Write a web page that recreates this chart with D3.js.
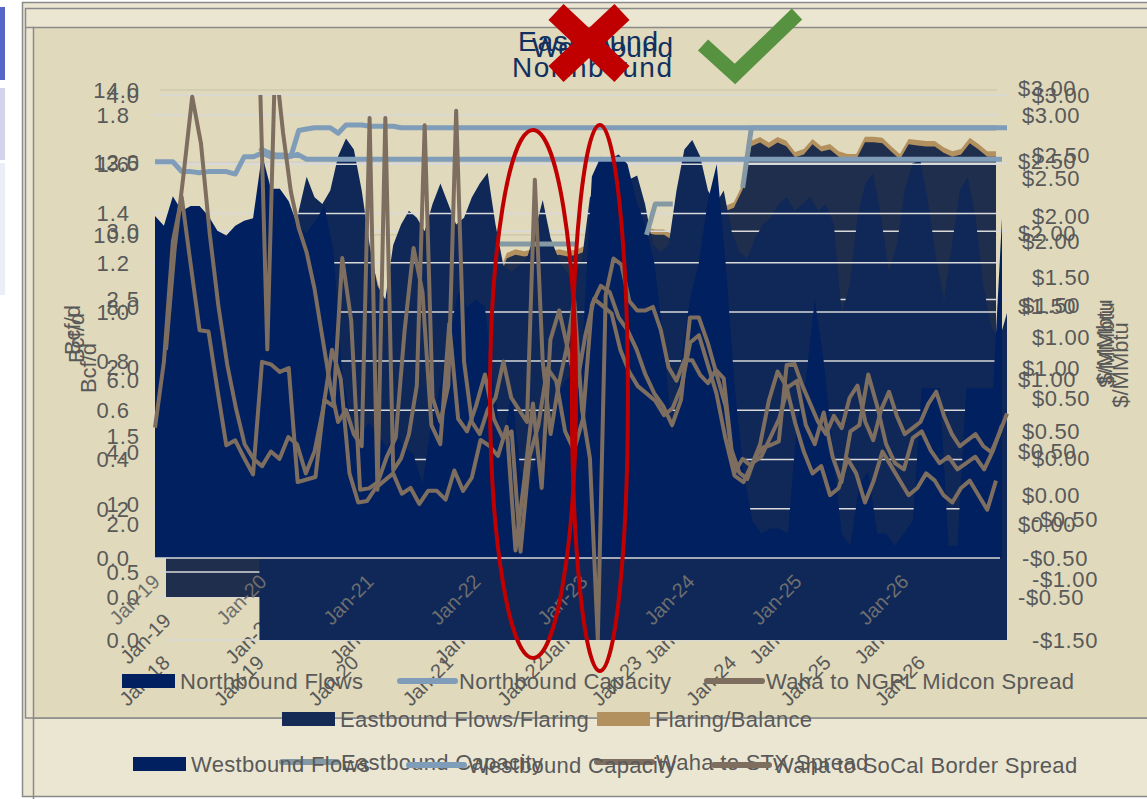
<!DOCTYPE html>
<html><head><meta charset="utf-8">
<script src="https://cdn.jsdelivr.net/npm/d3@7/dist/d3.min.js"></script>
<style>
body{margin:0;background:#fff;}
text{font-family:"Liberation Sans",Arial,sans-serif;}
</style></head>
<body><svg id="chart" width="1147" height="799"></svg>
<script>
// ---------------- DATA ----------------
const yearTicks = ["Jan-18","Jan-19","Jan-20","Jan-21","Jan-22","Jan-23","Jan-24","Jan-25","Jan-26"];
const titles = ["Eastbound","Westbound","Northbound"];

// Northbound (monthly Jan-19 .. Dec-26)
const nbFlows = [
 1.39,1.35,1.47,1.41,1.43,1.43,1.39,1.33,1.31,1.35,1.37,1.38,
 1.64,1.50,1.50,1.45,1.35,1.32,1.37,1.43,1.25,0.75,0.55,0.50,
 0.55,0.50,0.45,0.50,0.45,0.42,0.30,0.55,0.70,0.90,1.08,1.02,
 1.05,1.02,0.70,0.45,0.68,0.35,0.30,0.45,0.50,0.65,0.72,0.75,
 0.90,1.55,1.63,1.62,1.64,1.60,1.45,1.35,1.20,0.90,0.50,0.80,
 1.05,1.20,1.45,1.60,1.20,0.70,0.35,0.15,0.10,0.12,0.12,0.10,
 0.55,0.72,1.05,0.80,0.45,0.10,0.05,0.30,0.35,0.10,0.10,0.05,
 0.10,0.15,0.69,0.69,0.69,0.05,0.05,0.69,0.69,0.69,0.69,1.38];
const nbCapacity = [
 1.61,1.61,1.61,1.57,1.57,1.565,1.57,1.57,1.57,1.56,1.63,1.63,
 1.645,1.63,1.63,1.63,1.64,1.62,1.62,1.62,1.62,1.62,1.62,1.62,
 1.62,1.62,1.62,1.62,1.62,1.62,1.62,1.62,1.62,1.62,1.62,1.62,
 1.62,1.62,1.62,1.62,1.62,1.62,1.62,1.62,1.62,1.62,1.62,1.62,
 1.62,1.62,1.62,1.62,1.62,1.62,1.62,1.62,1.62,1.62,1.62,1.62,
 1.62,1.62,1.62,1.62,1.62,1.62,1.62,1.62,1.62,1.62,1.62,1.62,
 1.62,1.62,1.62,1.62,1.62,1.62,1.62,1.62,1.62,1.62,1.62,1.62,
 1.62,1.62,1.62,1.62,1.62,1.62,1.62,1.62,1.62,1.62,1.62,1.62];
const ngplSpread = [
 0.53,1.05,2.00,2.35,1.82,1.30,1.29,0.83,0.39,0.43,0.29,0.16,
 1.05,1.03,0.97,1.00,0.10,0.12,0.14,0.75,0.70,1.87,1.38,0.04,
 0.05,0.10,0.30,0.45,1.30,1.95,1.60,0.55,0.40,1.35,0.60,0.50,
 0.70,0.95,0.60,0.45,0.50,-0.45,0.30,0.55,1.00,0.90,0.50,0.35,
 0.60,1.50,1.65,1.60,1.40,1.30,1.15,0.95,0.80,0.70,0.55,0.75,
 1.40,1.40,1.20,0.95,0.70,0.15,0.10,0.25,0.30,0.45,0.60,0.85,
 0.90,0.55,0.40,0.65,0.30,0.10,0.50,0.55,0.95,0.70,0.40,0.25,
 0.20,0.45,0.50,0.35,0.25,0.30,0.20,0.25,0.30,0.20,0.35,0.55];

// Eastbound (monthly Jan-19 .. Dec-26)
const ebFlows = [
 8.45,8.55,8.65,8.75,8.85,8.95,9.05,9.15,9.15,9.25,9.25,9.35,
 9.25,9.15,8.85,7.65,7.45,8.05,8.45,8.65,8.85,8.95,9.05,9.05,
 8.75,7.85,8.95,9.05,9.15,9.05,9.15,9.25,9.25,9.35,9.35,9.35,
 9.15,9.05,8.70,9.35,9.45,9.40,9.45,9.35,9.40,9.45,9.40,9.45,
 9.55,9.65,9.75,9.85,9.85,9.95,9.95,10.05,10.00,10.00,9.85,10.15,
 10.15,10.35,10.45,10.55,10.65,10.75,11.25,12.45,12.55,12.40,12.55,12.45,
 12.14,12.22,12.50,12.30,12.36,12.16,12.08,12.08,12.56,12.56,12.53,12.30,
 12.08,12.50,12.47,12.44,12.44,12.27,12.16,12.22,12.53,12.36,12.16,12.16];
const ebFlaring = [
 0.15,0.15,0.15,0.15,0.15,0.15,0.15,0.15,0.15,0.15,0.15,0.15,
 0.15,0.15,0.15,0.15,0.15,0.15,0.15,0.15,0.15,0.15,0.15,0.15,
 0.15,0.15,0.15,0.15,0.15,0.15,0.15,0.15,0.15,0.15,0.15,0.15,
 0.15,0.15,0.15,0.15,0.15,0.15,0.15,0.15,0.15,0.15,0.15,0.15,
 0.15,0.15,0.15,0.15,0.15,0.15,0.15,0.15,0.15,0.15,0.15,0.15,
 0.15,0.15,0.15,0.15,0.15,0.15,0.15,0.15,0.15,0.15,0.15,0.15,
 0.15,0.15,0.15,0.15,0.15,0.15,0.15,0.15,0.15,0.15,0.15,0.15,
 0.15,0.15,0.15,0.15,0.15,0.15,0.15,0.15,0.15,0.15,0.15,0.15];
// visible portions only (rest is hidden behind the other flows)
const ebCapacity = [
 null,null,null,null,null,null,null,null,null,null,null,null,
 null,null,null,null,null,null,null,null,null,null,null,null,
 null,null,null,null,null,null,null,null,null,null,null,null,
 null,null,9.75,9.75,9.75,9.75,9.75,9.75,9.75,9.75,9.75,9.75,
 null,null,null,null,null,null,null,10.0,10.85,10.85,10.85,null,
 null,null,null,null,null,null,11.3,12.95,12.95,12.95,12.95,12.95,
 12.95,12.95,12.95,12.95,12.95,12.95,12.95,12.95,12.95,12.95,12.95,12.95,
 12.95,12.95,12.95,12.95,12.95,12.95,12.95,12.95,12.95,12.95,12.95,12.95];
const stxSpread = [
 1.20,1.90,2.40,2.94,2.62,2.00,1.50,1.10,0.80,0.55,0.45,0.40,
 0.50,0.45,0.60,0.55,0.35,0.50,0.80,1.20,1.00,0.35,0.15,0.16,
 0.25,0.30,0.35,0.21,0.25,0.14,0.23,0.23,0.17,0.37,0.23,0.32,
 0.58,0.54,0.47,0.67,-0.18,0.30,0.83,0.25,1.27,1.47,1.20,0.95,
 1.30,1.55,1.50,1.45,1.20,1.05,0.95,0.90,0.85,0.75,0.80,0.95,
 1.25,1.30,1.10,0.90,0.60,0.35,0.45,0.40,0.55,0.85,1.05,0.95,
 0.70,0.50,0.35,0.40,0.20,0.25,0.45,0.35,0.15,0.30,0.50,0.40,
 0.30,0.20,0.25,0.35,0.30,0.20,0.15,0.25,0.30,0.20,0.10,0.30];

// Westbound (monthly Jan-18 .. Dec-26)
const wbFlows = [
 null,null,null,null,null,null,null,null,null,null,null,null,
 2.95,3.00,3.10,3.00,2.85,3.15,3.40,3.25,3.20,3.30,3.55,3.68,
 3.60,3.30,2.90,2.60,2.50,2.90,3.05,3.15,3.10,3.00,3.20,3.35,
 3.20,3.05,3.10,3.25,3.35,3.43,3.05,2.75,2.70,2.75,2.80,3.00,
 3.23,2.95,2.80,2.70,2.65,2.80,3.25,3.30,3.20,3.30,3.35,3.38,
 3.41,3.20,2.90,2.85,2.90,3.30,3.60,3.67,3.55,3.30,3.20,3.30,
 3.00,2.85,2.80,2.95,3.05,3.10,3.20,3.25,3.15,3.20,3.25,3.15,
 3.20,3.05,2.40,2.60,3.10,3.35,3.43,3.10,2.70,2.90,3.30,3.50,
 3.52,3.20,2.80,2.50,2.90,3.30,3.40,3.10,2.60,2.30,2.20,2.40];
const wbCapacity = [
 null,null,null,null,null,null,null,null,null,null,null,null,
 3.61,3.58,3.56,3.56,3.55,3.74,3.75,3.76,3.76,3.76,3.72,3.78,
 3.78,3.78,3.77,3.77,3.77,3.77,3.76,3.76,3.76,3.76,3.76,3.76,
 3.76,3.76,3.76,3.76,3.76,3.76,3.76,3.76,3.76,3.76,3.76,3.76,
 3.76,3.76,3.76,3.76,3.76,3.76,3.76,3.76,3.76,3.76,3.76,3.76,
 3.76,3.76,3.76,3.76,3.76,3.76,3.76,3.76,3.76,3.76,3.76,3.76,
 3.76,3.76,3.76,3.76,3.76,3.76,3.76,3.76,3.76,3.76,3.76,3.76,
 3.76,3.76,3.76,3.76,3.76,3.76,3.76,3.76,3.76,3.76,3.76,3.76,
 3.76,3.76,3.76,3.76,3.76,3.76,3.76,3.76,3.76,3.76,3.76,3.76];
const socalSpread = [
 null,null,null,null,null,null,null,null,null,null,null,null,
 3.30,0.90,3.30,2.69,2.20,1.90,1.70,1.40,1.00,0.60,0.30,0.40,
 0.20,0.10,2.81,-0.26,2.81,-0.10,0.00,0.20,0.60,2.75,0.50,0.30,
 0.60,2.87,0.80,0.30,0.20,0.40,0.50,0.80,0.50,0.40,0.30,2.30,
 0.80,0.20,0.60,0.90,1.30,0.40,0.00,-1.50,1.35,1.65,1.60,1.30,
 1.22,1.22,1.25,1.06,0.75,0.64,0.81,0.81,0.69,0.62,0.73,0.66,
 0.07,-0.12,-0.17,0.01,0.09,0.11,0.14,0.77,0.78,0.60,0.45,0.30,
 0.20,0.35,0.25,0.50,0.60,0.30,0.15,0.40,0.55,0.35,0.20,0.25,
 0.30,0.45,0.55,0.35,0.20,0.10,0.15,0.20,0.10,0.05,0.20,0.37];

const leftTicksNB = [0,0.2,0.4,0.6,0.8,1.0,1.2,1.4,1.6,1.8];
const leftTicksEB = [0,2,4,6,8,10,12,14];
const leftTicksWB = [0,0.5,1,1.5,2,2.5,3,3.5,4];
const rightTicksNB = [-0.5,0,0.5,1,1.5,2,2.5,3];
const rightTicksEB = [-0.5,0,0.5,1,1.5,2,2.5,3];
const rightTicksWB = [-1.5,-1,-0.5,0,0.5,1,1.5,2,2.5,3];

// ---------------- DRAW ----------------
const svg = d3.select("#chart");
const C = {
  tan:"#e0d9bb", light:"#ebe6d2", frame:"#8a8a8a",
  bright:"#002060", medium:"#0f2858", gray:"#1f2e4d",
  flaring:"#b3915f", capB:"#7f9cb8", capE:"#8499a4", spread:"#7d6e60",
  grid:"#d9d9d9", text:"#595959"
};

svg.append("rect").attr("x",0).attr("y",0).attr("width",1147).attr("height",799).attr("fill","#fff");
svg.append("rect").attr("x",0).attr("y",7).attr("width",5).attr("height",73).attr("fill","#5566c8");
svg.append("rect").attr("x",0).attr("y",88).attr("width",5).attr("height",72).attr("fill","#d2d4ec");
svg.append("rect").attr("x",0).attr("y",163).attr("width",5).attr("height",132).attr("fill","#eceef7");
svg.append("rect").attr("x",22.5).attr("y",2.5).attr("width",1140).attr("height",794).attr("fill",C.light).attr("stroke",C.frame).attr("stroke-width",1.5);
svg.append("rect").attr("x",25.5).attr("y",8.5).attr("width",1140).attr("height",709.5).attr("fill","none").attr("stroke",C.frame).attr("stroke-width",1.5);
svg.append("rect").attr("x",33.5).attr("y",27.5).attr("width",1140).attr("height",690.5).attr("fill",C.tan).attr("stroke",C.frame).attr("stroke-width",1.5);
svg.append("line").attr("x1",25).attr("x2",34).attr("y1",27.5).attr("y2",27.5).attr("stroke",C.frame).attr("stroke-width",1.5);
svg.append("line").attr("x1",33.5).attr("x2",33.5).attr("y1",718).attr("y2",799).attr("stroke",C.frame).attr("stroke-width",1.5);

const xNB = d3.scaleLinear().domain([0,95]).range([155,1002]);
const yNB = d3.scaleLinear().domain([0,1.8]).range([558,115]);
const yNBr = d3.scaleLinear().domain([-0.5,3]).range([558,115]);
const xEB = d3.scaleLinear().domain([0,95]).range([166,996]);
const yEB = d3.scaleLinear().domain([0,14]).range([597,90]);
const yEBr = d3.scaleLinear().domain([-0.5,3]).range([597,88]);
const xWB = d3.scaleLinear().domain([0,107]).range([165,1007]);
const yWB = d3.scaleLinear().domain([0,4]).range([640,95]);
const yWBr = d3.scaleLinear().domain([-1.5,3]).range([640,95]);

const fmt1 = d3.format(".1f");
const fmtD = v => (v<0?"-$":"$") + d3.format(".2f")(Math.abs(v));

function grid(g, ticks, y, x1, x2, color){
  g.selectAll(null).data(ticks).enter().append("line")
   .attr("x1",x1).attr("x2",x2).attr("y1",d=>y(d)).attr("y2",d=>y(d))
   .attr("stroke",color).attr("stroke-width",1.5);
}
function leftLabels(g, ticks, y, xEnd, fmt){
  g.selectAll(null).data(ticks).enter().append("text")
   .attr("x",xEnd).attr("y",d=>y(d)).attr("dy","0.36em").attr("text-anchor","end")
   .attr("font-size",22).attr("letter-spacing",1).attr("fill",C.text).text(fmt);
}
function rightLabels(g, ticks, y, xStart, fmt){
  g.selectAll(null).data(ticks).enter().append("text")
   .attr("x",xStart).attr("y",d=>y(d)).attr("dy","0.36em").attr("text-anchor","start")
   .attr("font-size",22).attr("letter-spacing",0.6).attr("fill",C.text).text(fmt);
}
function xLabels(g, labels, xpos, yTop, color){
  g.selectAll(null).data(labels).enter().append("text")
   .attr("transform",(d,i)=>`translate(${xpos(i)+6},${yTop}) rotate(-45)`)
   .attr("text-anchor","end").attr("font-size",20).attr("fill",color).text(d=>d);
}
function areaPath(g, vals, x, y, y0, color){
  const a = d3.area().defined(d=>d.v!=null).x(d=>x(d.i)).y0(y0).y1(d=>y(d.top));
  g.append("path").datum(vals).attr("d",a).attr("fill",color);
}
function linePath(g, vals, x, y, color, w, clipId){
  const l = d3.line().defined(d=>d!=null).x((d,i)=>x(i)).y(d=>y(d));
  g.append("path").datum(vals).attr("d",l).attr("fill","none").attr("stroke",color)
   .attr("stroke-width",w).attr("stroke-linejoin","round").attr("clip-path",clipId?`url(#${clipId})`:null);
}
function yTitle(g, txt, cx, cy, rot){
  g.append("text").attr("transform",`translate(${cx},${cy}) rotate(${rot})`)
   .attr("text-anchor","middle").attr("dy","0.35em").attr("font-size",22).attr("fill",C.text).text(txt);
}
function legendRect(g, x, y, color, label){
  g.append("rect").attr("x",x).attr("y",y-7).attr("width",53).attr("height",14).attr("fill",color);
  g.append("text").attr("x",x+58).attr("y",y).attr("dy","0.36em").attr("font-size",22).attr("letter-spacing",0.3).attr("fill",C.text).text(label);
}
function legendLine(g, x, y, color, label){
  g.append("line").attr("x1",x).attr("x2",x+55).attr("y1",y).attr("y2",y).attr("stroke",color).attr("stroke-width",6).attr("stroke-linecap","round");
  g.append("text").attr("x",x+59).attr("y",y).attr("dy","0.36em").attr("font-size",22).attr("letter-spacing",0.3).attr("fill",C.text).text(label);
}

const defs = svg.append("defs");
defs.append("clipPath").attr("id","clipNB").append("rect").attr("x",140).attr("y",115).attr("width",880).attr("height",443);
defs.append("clipPath").attr("id","clipEB").append("rect").attr("x",140).attr("y",88).attr("width",880).attr("height",509);
defs.append("clipPath").attr("id","clipWB").append("rect").attr("x",140).attr("y",95).attr("width",880).attr("height",545);

// ===== Eastbound chart (bottom layer) =====
const gE = svg.append("g");
grid(gE, leftTicksEB.slice(1), yEB, 160, 997, "#cfc8ae");
gE.append("line").attr("x1",155).attr("x2",997).attr("y1",597).attr("y2",597).attr("stroke",C.grid).attr("stroke-width",1.5);
areaPath(gE, ebFlows.map((v,i)=>({i,v,top:v+ebFlaring[i]})), xEB, yEB, 597, C.flaring);
areaPath(gE, ebFlows.map((v,i)=>({i,v,top:v})), xEB, yEB, 597, C.gray);
leftLabels(gE, leftTicksEB, yEB, 140, fmt1);
rightLabels(gE, rightTicksEB, yEBr, 1018, fmtD);
xLabels(gE, yearTicks.slice(1), i=>xEB(i*12), 622, C.text);
yTitle(gE, "Bcf/d", 72, 330, -90);
yTitle(gE, "$/MMbtu", 1106, 345, -90);
legendRect(gE, 282, 719, "#152a55", "Eastbound Flows/Flaring");
legendRect(gE, 597, 719, C.flaring, "Flaring/Balance");
legendLine(gE, 282, 762, C.capE, "Eastbound Capacity");
legendLine(gE, 597, 762, C.spread, "Waha to STX Spread");

// ===== Westbound chart (middle layer) =====
const gW = svg.append("g");
grid(gW, leftTicksWB.slice(1), yWB, 160, 1008, C.grid);
gW.append("line").attr("x1",165).attr("x2",1008).attr("y1",640).attr("y2",640).attr("stroke",C.grid).attr("stroke-width",1.5);
areaPath(gW, wbFlows.map((v,i)=>({i,v,top:v})), xWB, yWB, 640, C.medium);
leftLabels(gW, leftTicksWB, yWB, 140, fmt1);
rightLabels(gW, rightTicksWB, yWBr, 1032, fmtD);
xLabels(gW, yearTicks, i=>xWB(i*12), 664, C.text);
yTitle(gW, "Bcf/d", 88, 368, -90);
yTitle(gW, "$/MMbtu", 1120, 365, -90);
legendRect(gW, 133, 764, C.bright, "Westbound Flows");
legendLine(gW, 409, 765, C.capB, "Westbound Capacity");
legendLine(gW, 714, 765, C.spread, "Waha to SoCal Border Spread");

// ===== Northbound chart (top layer) =====
const gN = svg.append("g");
grid(gN, leftTicksNB.slice(1), yNB, 151, 1000, C.grid);
areaPath(gN, nbFlows.map((v,i)=>({i,v,top:v})), xNB, yNB, 558, C.bright);
gN.append("line").attr("x1",151).attr("x2",1000).attr("y1",558).attr("y2",558).attr("stroke",C.grid).attr("stroke-width",1.5);
leftLabels(gN, leftTicksNB, yNB, 130, fmt1);
rightLabels(gN, rightTicksNB, yNBr, 1022, fmtD);
xLabels(gN, yearTicks.slice(1), i=>xNB(i*12), 583, "#6e6e6e");
yTitle(gN, "Bcf/d", 76, 338, -90);
yTitle(gN, "$/MMbtu", 1104, 342, -90);
legendRect(gN, 122, 681, C.bright, "Northbound Flows");
legendLine(gN, 400, 681, C.capB, "Northbound Capacity");
legendLine(gN, 707, 681, C.spread, "Waha to NGPL Midcon Spread");

// ===== lines on top =====
const gL = svg.append("g");
linePath(gL, ebCapacity, xEB, yEB, C.capE, 5, "clipEB");
linePath(gL, wbCapacity, xWB, yWB, C.capB, 5, "clipWB");
linePath(gL, nbCapacity, xNB, yNB, C.capB, 5, "clipNB");
linePath(gL, stxSpread, xEB, yEBr, C.spread, 4, "clipEB");
linePath(gL, socalSpread, xWB, yWBr, C.spread, 4, "clipWB");
linePath(gL, ngplSpread, xNB, yNBr, C.spread, 4, "clipNB");

// ===== titles =====
const tcol = "#12305f";
svg.append("text").attr("x",518).attr("y",51).attr("font-size",28).attr("textLength",140).attr("fill",tcol).text(titles[0]);
svg.append("text").attr("x",532).attr("y",57).attr("font-size",28).attr("textLength",141).attr("fill",tcol).text(titles[1]);
svg.append("text").attr("x",512).attr("y",77).attr("font-size",28).attr("textLength",160).attr("fill",tcol).text(titles[2]);

// ===== annotations =====
svg.append("line").attr("x1",556).attr("y1",12).attr("x2",622).attr("y2",74).attr("stroke","#c00000").attr("stroke-width",22);
svg.append("line").attr("x1",622).attr("y1",12).attr("x2",556).attr("y2",74).attr("stroke","#c00000").attr("stroke-width",22);
svg.append("polyline").attr("points","703,45 735,74 797,14").attr("fill","none").attr("stroke","#56923f").attr("stroke-width",15);
svg.append("ellipse").attr("cx",xNB(42.4)).attr("cy",394).attr("rx",43).attr("ry",264).attr("fill","none").attr("stroke","#c00000").attr("stroke-width",4);
svg.append("ellipse").attr("cx",xNB(49.9)).attr("cy",398).attr("rx",28).attr("ry",273).attr("fill","none").attr("stroke","#c00000").attr("stroke-width",4);
</script></body></html>
